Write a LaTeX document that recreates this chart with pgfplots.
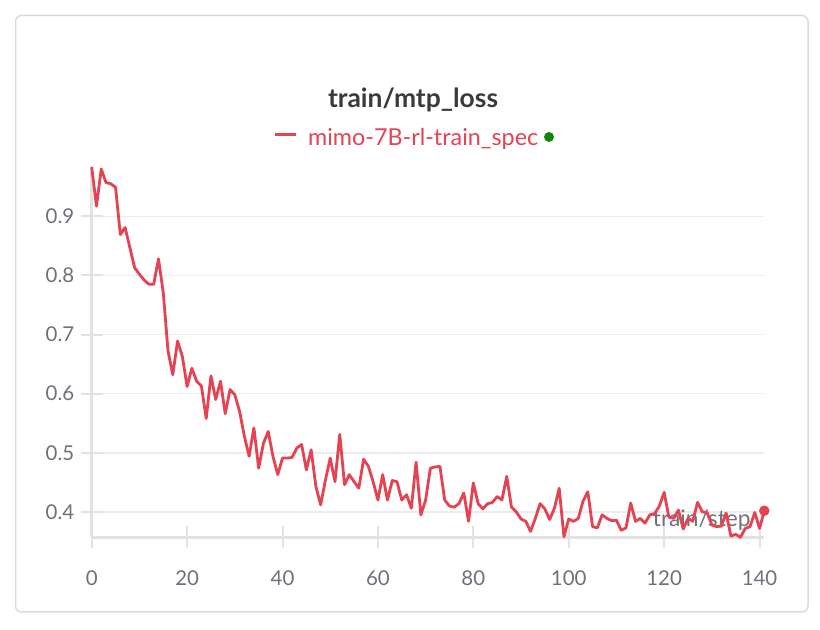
\documentclass[border=0pt]{standalone}
\usepackage{fontspec}
\setmainfont{Lato}
\usepackage{pgfplots}
\usepackage{pgfplotstable}
\pgfplotsset{compat=1.18}
\definecolor{linered}{RGB}{229,66,82}
\definecolor{dotgreen}{RGB}{20,135,10}
\definecolor{gridgray}{RGB}{236,236,236}
\definecolor{axisgray}{RGB}{226,226,226}
\definecolor{ticklab}{RGB}{112,112,122}
\definecolor{titlecol}{RGB}{58,58,58}
\definecolor{cardborder}{RGB}{218,218,218}

\pgfplotstableread{
step loss
0 0.983
1 0.917
2 0.980
3 0.957
4 0.955
5 0.949
6 0.869
7 0.881
8 0.847
9 0.813
10 0.802
11 0.792
12 0.785
13 0.785
14 0.828
15 0.771
16 0.672
17 0.632
18 0.689
19 0.663
20 0.612
21 0.643
22 0.621
23 0.613
24 0.558
25 0.630
26 0.590
27 0.621
28 0.566
29 0.607
30 0.598
31 0.570
32 0.528
33 0.494
34 0.542
35 0.474
36 0.516
37 0.536
38 0.494
39 0.463
40 0.491
41 0.491
42 0.492
43 0.508
44 0.514
45 0.471
46 0.505
47 0.443
48 0.412
49 0.454
50 0.491
51 0.451
52 0.531
53 0.446
54 0.463
55 0.451
56 0.440
57 0.489
58 0.477
59 0.451
60 0.420
61 0.463
62 0.420
63 0.453
64 0.451
65 0.420
66 0.429
67 0.406
68 0.484
69 0.395
70 0.420
71 0.474
72 0.476
73 0.477
74 0.420
75 0.410
76 0.408
77 0.414
78 0.432
79 0.384
80 0.449
81 0.414
82 0.405
83 0.414
84 0.416
85 0.426
86 0.420
87 0.460
88 0.408
89 0.400
90 0.388
91 0.384
92 0.367
93 0.389
94 0.414
95 0.405
96 0.387
97 0.406
98 0.440
99 0.358
100 0.388
101 0.384
102 0.389
103 0.418
104 0.434
105 0.375
106 0.373
107 0.395
108 0.389
109 0.385
110 0.386
111 0.369
112 0.373
113 0.415
114 0.384
115 0.389
116 0.381
117 0.395
118 0.397
119 0.410
120 0.433
121 0.391
122 0.389
123 0.403
124 0.371
125 0.389
126 0.384
127 0.416
128 0.400
129 0.399
130 0.378
131 0.375
132 0.376
133 0.398
134 0.359
135 0.362
136 0.357
137 0.372
138 0.375
139 0.399
140 0.372
141 0.402
}\losstable

\begin{document}
\begin{tikzpicture}
\useasboundingbox (0bp,0bp) rectangle (820bp,630bp);
\fill[white] (0bp,0bp) rectangle (820bp,630bp);
\draw[cardborder, line width=1.5bp, rounded corners=6bp] (15.5bp,18bp) rectangle (808bp,614.5bp);
\node[anchor=base, inner sep=0pt, font=\fontsize{26.5}{30}\selectfont\bfseries, text=titlecol] at (413bp,522bp) {train/mtp\_loss};
\draw[linered, line width=3bp] (275bp,495bp) -- (296bp,495bp);
\node[anchor=base west, inner sep=0pt, font=\fontsize{23.4}{27}\selectfont, text=linered] at (308bp,484bp) {mimo-7B-rl-train\_spec};
\fill[dotgreen] (549bp,493bp) circle (5bp);
\begin{axis}[
  at={(91.7bp,92.7bp)}, anchor=south west,
  scale only axis, width=672.6bp, height=371.3bp,
  xmin=0, xmax=141, ymin=0.357, ymax=0.985,
  clip=false,
  axis lines=left,
  axis line style={-, draw=axisgray, line width=3bp},
  tick align=center,
  major tick length=22bp,
  tick style={draw=axisgray, line width=2bp},
  xtick={0,20,40,60,80,100,120,140},
  ytick={0.4,0.5,0.6,0.7,0.8,0.9},
  ymajorgrids,
  major grid style={draw=gridgray, line width=1.5bp},
  /pgf/number format/assume math mode=true,
  yticklabel={\pgfmathprintnumber[fixed,fixed zerofill,precision=1]{\tick}},
  ticklabel style={font=\fontsize{20.5}{24}\selectfont, text=ticklab},
  xticklabel style={yshift=-19bp},
  yticklabel style={xshift=-3bp},
]
\node[anchor=base, inner sep=0pt, font=\fontsize{22.8}{26}\selectfont, text=ticklab]
  at (axis description cs:0.907,0.028) {train/step};
\addplot[linered, line width=2.8bp, line join=round] table[x=step, y=loss] {\losstable};
\addplot[only marks, mark=*, mark size=5bp, mark options={fill=linered, draw=linered}] coordinates {(141,0.402)};
\end{axis}
\end{tikzpicture}
\end{document}
